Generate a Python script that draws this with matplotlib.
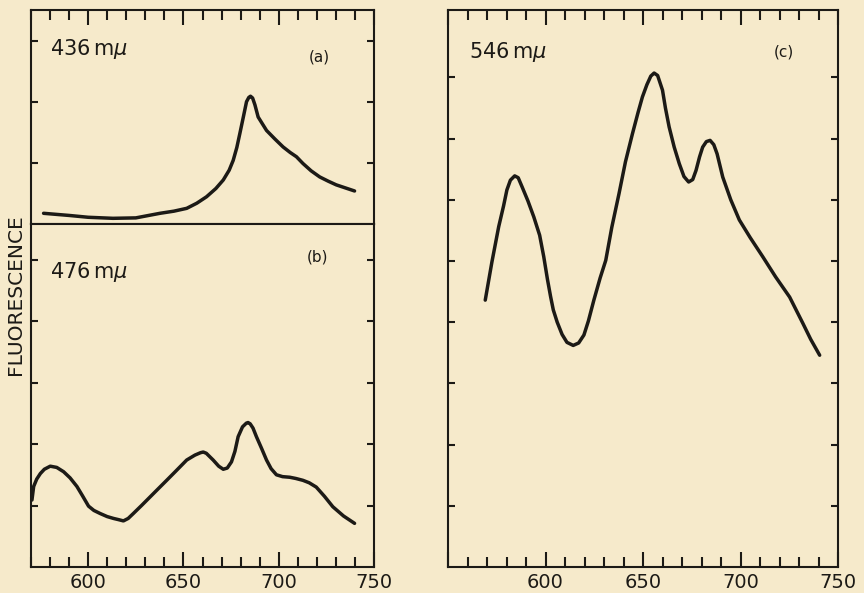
import matplotlib.pyplot as plt
from matplotlib.ticker import MultipleLocator, FuncFormatter

# wavelength (m-mu) and fluorescence
wl_a = [576.6, 590, 600, 613, 625, 637.7, 645, 651.7, 657, 662.1, 667, 670.9, 674, 676.1,
        678, 679.6, 681.5, 683.1, 684.3, 685.2, 686.3, 687.5, 689.2, 693.6, 698, 702.3,
        706, 709.3, 712.7, 717, 721.5, 726, 730.2, 735, 739.8]
fl_a = [0.175, 0.14, 0.11, 0.093, 0.10, 0.175, 0.21, 0.256, 0.34, 0.445, 0.58, 0.72, 0.88, 1.04,
        1.25, 1.48, 1.76, 2.0, 2.07, 2.09, 2.06, 1.95, 1.75, 1.53, 1.39, 1.26,
        1.17, 1.10, 0.99, 0.87, 0.77, 0.70, 0.64, 0.59, 0.54]

wl_b = [570.5, 571.4, 573, 574.9, 577, 580.1, 583.5, 587.1, 590.5, 594.1, 597, 600.2, 603,
        606.3, 610, 613.3, 616, 618.5, 621, 623.7, 628, 632.5, 637, 641.2, 646, 651.7, 656,
        659, 660.4, 662, 665.6, 668.5, 670.9, 673, 675.2, 677, 678.7, 681, 683, 683.9, 685,
        686.5, 688.3, 691, 693.6, 696, 698.8, 702, 705.8, 709, 712.7, 716, 719.7, 724,
        728.4, 734, 739.8]
fl_b = [1.09, 1.31, 1.43, 1.52, 1.59, 1.64, 1.62, 1.55, 1.45, 1.31, 1.16, 0.99, 0.92,
        0.87, 0.82, 0.79, 0.77, 0.75, 0.79, 0.87, 1.0, 1.14, 1.28, 1.41, 1.56, 1.74, 1.82,
        1.86, 1.87, 1.85, 1.74, 1.64, 1.59, 1.61, 1.71, 1.88, 2.12, 2.28, 2.34, 2.35, 2.33,
        2.26, 2.12, 1.93, 1.74, 1.60, 1.50, 1.47, 1.46, 1.44, 1.41, 1.37, 1.30, 1.15,
        0.98, 0.83, 0.71]

wl_c = [569.1, 572.5, 576.0, 578.5, 580.2, 582, 584.2, 586, 588.0, 591, 594.0, 597, 599.1,
        601, 602.6, 604, 606, 608.5, 611, 614.2, 617, 619.7, 622, 624.8, 628, 630.9,
        634, 637.7, 641, 644.6, 647.5, 649.7, 652, 654, 655.7, 657.5, 660.0, 661.5, 663.4,
        666, 668.6, 671, 673.4, 675.5, 677.2, 679, 680.6, 682.5, 684.4, 686.3, 688.0,
        690.9, 695, 699.4, 705, 711.4, 718, 725.2, 732.0, 736, 740.6]
fl_c = [4.36, 4.98, 5.56, 5.9, 6.16, 6.32, 6.39, 6.36, 6.21, 5.98, 5.72, 5.42, 5.07,
        4.7, 4.42, 4.2, 4.0, 3.8, 3.67, 3.62, 3.66, 3.79, 4.02, 4.36, 4.72, 5.01,
        5.55, 6.10, 6.62, 7.08, 7.43, 7.68, 7.88, 8.02, 8.07, 8.03, 7.79, 7.5, 7.19,
        6.86, 6.59, 6.38, 6.29, 6.33, 6.48, 6.7, 6.86, 6.95, 6.97, 6.9, 6.75,
        6.37, 6.0, 5.67, 5.38, 5.07, 4.74, 4.41, 3.98, 3.72, 3.46]

bg = '#f6eacb'
ink = '#1c1a16'
fs = 14

fig = plt.figure(figsize=(8.64, 5.93), dpi=100, facecolor=bg)

L0, LW = 31 / 864, 343 / 864
ya, yb = 1 - 224 / 593, 1 - 567 / 593
ytop = 1 - 10 / 593
ax_a = fig.add_axes([L0, ya, LW, ytop - ya])
ax_b = fig.add_axes([L0, yb, LW, ya - yb])
ax_c = fig.add_axes([448 / 864, yb, 390 / 864, ytop - yb])

# only 600..750 carry labels
fmt = FuncFormatter(lambda v, p: '' if v < 600 else '%d' % v)


def style(ax, xlo, ymax, yt, top=True, bottom=True):
    ax.set_facecolor(bg)
    for s in ax.spines.values():
        s.set_linewidth(1.5)
        s.set_color(ink)
    ax.set_xlim(xlo, 750)
    ax.set_ylim(0, ymax)
    ax.xaxis.set_major_locator(MultipleLocator(50))
    ax.xaxis.set_minor_locator(MultipleLocator(10))
    ax.xaxis.set_major_formatter(fmt)
    ax.set_yticks(yt)
    ax.tick_params(axis='x', which='major', direction='in', length=11, width=1.5,
                   color=ink, top=top, bottom=bottom, labelbottom=bottom, labelsize=fs,
                   labelcolor=ink, pad=4)
    ax.tick_params(axis='x', which='minor', direction='in', length=7, width=1.5,
                   color=ink, top=top, bottom=bottom)
    ax.tick_params(axis='y', direction='in', length=5, width=1.5, color=ink,
                   left=True, right=True, labelleft=False)


style(ax_a, 570, 3.5, [1, 2, 3], top=True, bottom=False)
style(ax_b, 570, 5.58, [1, 2, 3, 4, 5], top=False, bottom=True)
style(ax_c, 550, 9.1, [1, 2, 3, 4, 5, 6, 7, 8])

for ax, x, y in [(ax_a, wl_a, fl_a), (ax_b, wl_b, fl_b), (ax_c, wl_c, fl_c)]:
    ax.plot(x, y, color=ink, lw=2.5, solid_joinstyle='round', solid_capstyle='round')

lab = 15
ax_a.text(0.055, 0.82, '436$\\,$m$\\mu$', transform=ax_a.transAxes, fontsize=lab, color=ink, va='center')
ax_a.text(0.81, 0.78, '(a)', transform=ax_a.transAxes, fontsize=11, color=ink, va='center')
ax_b.text(0.055, 0.86, '476$\\,$m$\\mu$', transform=ax_b.transAxes, fontsize=lab, color=ink, va='center')
ax_b.text(0.805, 0.905, '(b)', transform=ax_b.transAxes, fontsize=11, color=ink, va='center')
ax_c.text(0.055, 0.925, '546$\\,$m$\\mu$', transform=ax_c.transAxes, fontsize=lab, color=ink, va='center')
ax_c.text(0.835, 0.925, '(c)', transform=ax_c.transAxes, fontsize=11, color=ink, va='center')

fig.text(16 / 864, 1 - 295 / 593, 'FLUORESCENCE', rotation=90, fontsize=14.5,
         color=ink, ha='center', va='center')

fig.savefig('out.png', dpi=100, facecolor=bg)
